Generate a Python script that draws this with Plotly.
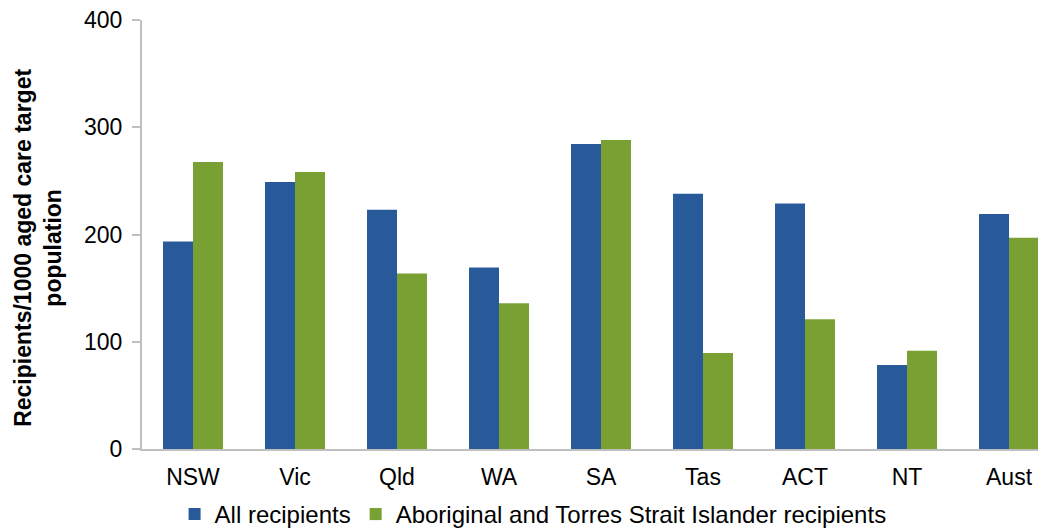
import plotly.graph_objects as go

categories = ["NSW", "Vic", "Qld", "WA", "SA", "Tas", "ACT", "NT", "Aust"]
all_recipients = [193.5, 249, 223, 169.3, 284.4, 238, 228.8, 78.4, 219.2]
atsi_recipients = [267.6, 258.3, 163.7, 135.8, 288, 89.6, 121, 91.5, 197]
y_title = "<b>Recipients/1000 aged care target<br>population</b>"

font_family = "Liberation Sans, Arial, sans-serif"

fig = go.Figure()
fig.add_trace(go.Bar(x=categories, y=all_recipients, name="All recipients",
                     marker=dict(color="#285A9A", line=dict(width=0))))
fig.add_trace(go.Bar(x=categories, y=atsi_recipients,
                     name="Aboriginal and Torres Strait Islander recipients",
                     marker=dict(color="#78A032", line=dict(width=0))))

fig.update_layout(
    width=1046, height=529,
    margin=dict(l=134, r=0, t=12, b=88, autoexpand=False),
    plot_bgcolor="white", paper_bgcolor="white",
    barmode="group", bargap=0.412, bargroupgap=0,
    font=dict(family=font_family, size=23, color="black"),
    legend=dict(orientation="h", xref="container", x=0.502, xanchor="center",
                yref="container", y=0.0, yanchor="bottom",
                font=dict(size=24), itemwidth=30, traceorder="normal",
                tracegroupgap=0),
    showlegend=True,
)
fig.add_annotation(text=y_title, xref="paper", yref="paper", x=-0.1135, y=0.47,
                   xanchor="center", yanchor="middle", textangle=-90, showarrow=False,
                   font=dict(size=23, family=font_family, color="black"))
fig.update_xaxes(showline=True, linecolor="#BFBFBF", linewidth=2,
                 range=[-0.5, 8.441],
                 ticks="", tickfont=dict(size=23), showgrid=False, ticklabelstandoff=6)
fig.update_yaxes(range=[0, 400], dtick=100, showline=True, linecolor="#BFBFBF", linewidth=2,
                 ticks="outside", ticklen=8, tickcolor="#BFBFBF", tickwidth=2, showgrid=False,
                 zeroline=False, tickfont=dict(size=23), ticklabelstandoff=5,
                 ticklabeloverflow="allow")

fig.write_html("out.html")
